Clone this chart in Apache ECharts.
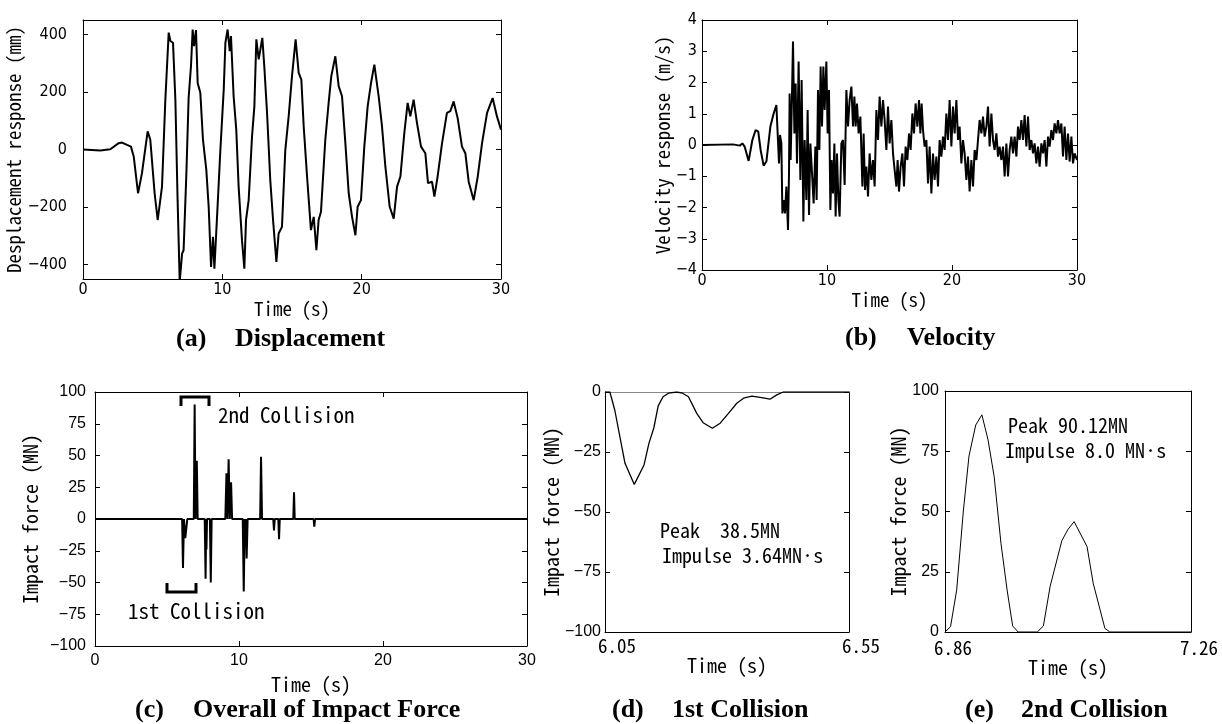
<!DOCTYPE html>
<html><head><meta charset="utf-8">
<script src="https://cdn.jsdelivr.net/npm/echarts@6/dist/echarts.min.js"></script>
<style>html,body{margin:0;padding:0;background:#fff}#c{width:1222px;height:724px}</style>
</head><body><div id="c"></div><script>
// ---------- DATA ----------
const dispTime = [0,1.24,1.96,2.56,2.8,3.16,3.44,3.64,3.95,4.23,4.64,4.83,5.14,5.36,5.67,5.91,6.15,6.27,6.46,6.63,6.79,6.94,7.11,7.22,7.42,7.58,7.75,7.87,7.97,8.11,8.23,8.42,8.61,8.85,9.02,9.19,9.33,9.43,9.62,9.86,10.1,10.22,10.38,10.53,10.62,10.81,11.0,11.17,11.41,11.58,11.7,11.89,12.13,12.3,12.44,12.61,12.87,13.01,13.21,13.44,13.64,13.88,14.04,14.28,14.52,14.76,15.0,15.26,15.48,15.67,15.84,16.08,16.36,16.56,16.75,16.91,17.08,17.39,17.63,17.82,18.11,18.35,18.59,18.83,19.07,19.31,19.55,19.71,19.95,20.19,20.43,20.67,20.91,21.22,21.46,21.7,22.01,22.3,22.54,22.78,23.06,23.3,23.49,23.73,23.97,24.26,24.57,24.76,25.05,25.22,25.45,25.77,26.12,26.36,26.6,26.89,27.2,27.44,27.68,28.04,28.33,28.64,29.0,29.4,29.71,30];
const dispValue = [0,-3.5,1,22,24,16,10,-24,-152,-83,63,34,-152,-245,-129,173,406,377,371,173,-176,-460,-362,-350,-83,179,290,417,359,415,231,197,34,-71,-199,-408,-303,-414,-234,-1,208,371,417,342,394,185,69,-129,-315,-414,-245,-176,45,150,383,313,388,290,127,-106,-245,-391,-292,-269,-1,115,255,383,266,243,80,-94,-280,-234,-350,-245,-216,34,162,255,324,220,185,22,-152,-234,-298,-199,-176,10,150,231,295,185,80,-59,-199,-240,-129,-94,57,162,115,173,92,10,-13,-117,-112,-164,-94,22,127,133,167,109,10,-13,-112,-176,-94,22,127,179,115,69];

const velTime = [0,2.48,3.01,3.23,3.41,3.73,4.03,4.29,4.5,4.69,4.93,5.15,5.47,5.73,5.95,6.11,6.16,6.24,6.35,6.43,6.56,6.64,6.75,6.88,6.96,7.01,7.09,7.17,7.28,7.39,7.49,7.6,7.73,7.87,7.97,8.11,8.21,8.35,8.45,8.56,8.67,8.83,8.93,9.07,9.17,9.28,9.39,9.49,9.6,9.71,9.81,9.95,10.05,10.16,10.27,10.37,10.48,10.59,10.69,10.8,10.91,11.01,11.15,11.28,11.41,11.55,11.68,11.81,11.95,12.08,12.19,12.29,12.4,12.53,12.67,12.83,12.93,13.04,13.15,13.28,13.41,13.55,13.68,13.81,13.95,14.08,14.21,14.35,14.48,14.61,14.75,14.88,15.01,15.15,15.28,15.41,15.55,15.65,15.76,15.89,16.03,16.16,16.29,16.43,16.56,16.69,16.83,16.96,17.09,17.23,17.36,17.47,17.57,17.68,17.81,17.95,18.08,18.21,18.35,18.48,18.61,18.75,18.88,19.01,19.15,19.28,19.41,19.55,19.68,19.81,19.95,20.08,20.21,20.35,20.48,20.61,20.75,20.88,21.01,21.15,21.28,21.41,21.55,21.68,21.81,21.95,22.08,22.21,22.35,22.48,22.61,22.75,22.88,23.01,23.15,23.28,23.41,23.55,23.68,23.81,23.95,24.08,24.21,24.35,24.48,24.61,24.75,24.88,25.01,25.15,25.28,25.41,25.55,25.68,25.81,25.95,26.08,26.21,26.35,26.48,26.61,26.75,26.88,27.01,27.15,27.28,27.41,27.55,27.68,27.81,27.95,28.08,28.21,28.35,28.48,28.61,28.75,28.88,29.01,29.15,29.28,29.41,29.55,29.68,29.81,30];
const velValue = [0,0.02,-0.02,0.05,-0.05,-0.51,0.16,0.48,0.43,-0.16,-0.66,-0.53,0.59,1.01,1.28,1.23,-0.59,0.32,0.05,-2.19,-1.76,-2.19,-1.33,-2.72,-0.91,1.65,-0.48,1.01,3.31,0.37,1.97,-0.59,2.67,-1.12,2.08,-2.45,0.16,-1.76,1.12,-2.24,0.05,-1.12,-1.87,-0.05,-1.76,1.76,-0.16,2.51,0.59,2.51,1.12,2.67,0.37,1.76,-2.08,-0.48,-1.55,0.05,-2.29,-0.27,-1.76,-2.29,0.05,0.16,-1.28,1.76,0.59,1.44,1.87,0.59,1.55,0.59,1.33,0.37,0.91,-1.33,0.37,-1.44,-0.69,-1.65,-0.27,-1.12,-0.48,-1.33,1.12,0.16,1.55,0.59,1.44,0.8,-0.16,1.23,0.05,0.8,-0.27,-0.8,-1.33,-0.48,-1.49,-0.69,-0.27,-1.33,-0.05,-0.48,0.37,-0.16,1.01,0.37,1.33,0.59,1.44,0.37,1.33,0.48,-0.05,0.16,-1.23,-0.05,-1.55,-0.27,-1.12,-0.37,-1.33,0.16,-0.37,0.27,-0.16,1.01,0.16,1.44,-0.05,1.23,0.37,1.44,0.16,0.59,-0.59,0.16,-0.27,-1.12,-0.37,-1.49,-0.48,-1.33,-0.16,-0.48,0.16,0.8,0.37,0.91,0.27,0.59,1.23,-0.05,1.01,0.16,-0.16,0.37,-0.37,-0.05,-0.48,-0.05,-1.01,0.05,-1.01,-0.16,0.27,-0.27,0.27,-0.37,0.59,0.16,0.8,0.16,0.96,-0.05,0.91,-0.16,0.16,-0.27,0.05,-0.59,-0.05,-0.69,0.05,-0.27,0.16,-0.69,0.27,-0.05,0.48,0.16,0.69,0.37,0.8,0.37,0.69,-0.37,0.59,-0.48,0.37,-0.53,0.27,-0.59,-0.27,-0.48];

const impactTime = [0,6.05,6.11,6.18,6.27,6.41,6.86,6.92,6.98,7.01,7.07,7.13,7.62,7.68,7.72,7.74,7.78,7.98,8.04,8.1,9.05,9.13,9.2,9.28,9.36,9.45,9.52,10.26,10.33,10.4,10.45,10.48,10.53,10.6,11.47,11.53,11.6,12.38,12.43,12.48,12.73,12.78,12.83,13.77,13.82,13.87,15.18,15.23,15.28,30];
const impactForce = [0,0,-38.5,0,-15,0,0,90.1,0,0,45.8,0,0,-47,0,-24,0,0,-50,0,0,36,0,47,0,29,0,0,-57,0,-16,0,-31,0,0,49,0,0,-9,0,0,-16,0,0,21,0,0,-6,0,0];

const col1Time = [6.05,6.06,6.07,6.091,6.11,6.13,6.14,6.15,6.159,6.169,6.18,6.197,6.209,6.221,6.238,6.251,6.27,6.286,6.303,6.32,6.334,6.351,6.371,6.388,6.402,6.415,6.55];
const col1Force = [0,0,-7.5,-29.7,-38.5,-30.4,-21.4,-15,-5.8,-2,-0.5,0,-0.5,-2,-8.9,-12.8,-15.1,-13,-8.9,-4.7,-2.6,-1.7,-2.3,-3,-1.2,0,0];

const col2Time = [6.86,6.869,6.879,6.89,6.899,6.91,6.92,6.93,6.94,6.951,6.961,6.97,6.979,7.01,7.02,7.031,7.05,7.06,7.07,7.091,7.101,7.12,7.128,7.26];
const col2Force = [0,2.2,17.4,50.6,73,85.9,90.1,79.7,64.4,36.8,17.4,2.5,0,0,2.5,19,37.9,42.6,45.8,35.4,20.2,1.5,0,0];

const dispTicks = [-400,-200,0,200,400];
const col1XLabels = [6.05,6.55];
const col2XLabels = [6.86,7.26];

// ---------- STYLE ----------
const MONO = "'Noto Sans Mono CJK JP','Noto Sans Mono CJK SC','DejaVu Sans Mono',monospace";
const NARROW = "'Liberation Sans Narrow','DejaVu Sans Condensed','Liberation Sans',sans-serif";
const SANS = "'Liberation Sans',Arial,sans-serif";
const SERIF = "'Liberation Serif','Times New Roman',serif";
const minus = v => String(v).replace('-', '\u2212');
const zip = (a, b) => a.map((t, i) => [t, b[i]]);

const chart = echarts.init(document.getElementById('c'), null, {renderer: 'canvas'});

const grids = [
  {left: 83, top: 20, width: 418, height: 259},
  {left: 702, top: 20, width: 375, height: 250},
  {left: 95, top: 392, width: 432, height: 254},
  {left: 605, top: 392, width: 244, height: 240},
  {left: 945, top: 391, width: 246, height: 241}
];

const lineC = {color: '#000', width: 1};
const xAxes = [], yAxes = [];
function addX(g, cfg, labelCfg, name, nameGap, nameSize, tickShow, topLine) {
  xAxes.push(Object.assign({
    type: 'value', gridIndex: g, position: 'bottom',
    axisLine: {show: true, onZero: false, lineStyle: lineC},
    axisTick: {show: tickShow, inside: true, length: 5, lineStyle: lineC},
    axisLabel: labelCfg, splitLine: {show: false},
    name: name, nameLocation: 'middle', nameGap: nameGap,
    nameTextStyle: {fontFamily: MONO, fontSize: nameSize, color: '#000'}
  }, cfg));
  xAxes.push(Object.assign({
    type: 'value', gridIndex: g, position: 'top',
    axisLine: {show: true, onZero: false, lineStyle: topLine || lineC},
    axisTick: {show: tickShow, inside: true, length: 5, lineStyle: lineC},
    axisLabel: {show: false}, splitLine: {show: false}
  }, cfg));
}
function addY(g, cfg, labelCfg, name, nameGap, nameSize, tickCfg) {
  yAxes.push(Object.assign({
    type: 'value', gridIndex: g, position: 'left',
    axisLine: {show: true, onZero: false, lineStyle: lineC},
    axisTick: Object.assign({show: true, inside: true, length: 5, lineStyle: lineC}, tickCfg || {}),
    axisLabel: labelCfg, splitLine: {show: false},
    name: name, nameLocation: 'middle', nameGap: nameGap,
    nameTextStyle: {fontFamily: MONO, fontSize: nameSize, color: '#000'}
  }, cfg));
  yAxes.push(Object.assign({
    type: 'value', gridIndex: g, position: 'right',
    axisLine: {show: true, onZero: false, lineStyle: lineC},
    axisTick: Object.assign({show: true, inside: true, length: 5, lineStyle: lineC}, tickCfg || {}),
    axisLabel: {show: false}, splitLine: {show: false}
  }, cfg));
}

const topLab = (margin) => ({fontFamily: NARROW, fontSize: 16, color: '#000', margin: margin, formatter: minus});
const botLab = (margin) => ({fontFamily: SANS, fontSize: 16, color: '#000', margin: margin, formatter: minus});

// (a)
addX(0, {min: 0, max: 30, interval: 10}, topLab(3), 'Time (s)', 20, 19, true);
addY(0, {min: -450, max: 450}, Object.assign(topLab(16), {customValues: dispTicks}), 'Desplacement response (mm)', 55, 19, {customValues: dispTicks});
// (b)
addX(1, {min: 0, max: 30, interval: 10}, topLab(3), 'Time (s)', 17, 19, true);
addY(1, {min: -4, max: 4, interval: 1}, topLab(5), 'Velocity response (m/s)', 30, 19);
// (c)
addX(2, {min: 0, max: 30, interval: 10}, botLab(7), 'Time (s)', 28, 20, true);
addY(2, {min: -100, max: 100, interval: 25}, botLab(9), 'Impact force (MN)', 55, 20);
// (d)
addX(3, {min: 6.05, max: 6.55}, {fontFamily: MONO, fontSize: 19, color: '#000', margin: 4, customValues: col1XLabels, formatter: v => v.toFixed(2), padding: [0, 0, 0, 24], showMinLabel: true, showMaxLabel: true}, 'Time (s)', 22, 20, false, {color: '#888', width: 1});
addY(3, {min: -100, max: 0, interval: 25}, botLab(4), 'Impact force (MN)', 38, 20);
// (e)
addX(4, {min: 6.86, max: 7.26}, {fontFamily: MONO, fontSize: 19, color: '#000', margin: 6, customValues: col2XLabels, formatter: v => v.toFixed(2), padding: [0, 0, 0, 16], showMinLabel: true, showMaxLabel: true}, 'Time (s)', 12, 20, false);
addY(4, {min: 0, max: 100, interval: 25}, botLab(6), 'Impact force (MN)', 34, 20);

const mkSeries = (i, data, w) => ({
  type: 'line', xAxisIndex: 2 * i, yAxisIndex: 2 * i, data: data, showSymbol: false, symbol: 'none',
  lineStyle: {color: '#000', width: w}, clip: true, animation: false, z: 3
});

const capText = (x, y, t) => ({type: 'text', left: x, top: y, style: {text: t, fontFamily: SERIF, fontWeight: 'bold', fontSize: 26, fill: '#000'}});
const annText = (x, y, t, s) => ({type: 'text', left: x, top: y, style: {text: t, fontFamily: MONO, fontSize: s, fill: '#000'}});

const graphics = [
  capText(176, 326, '(a)'), capText(235, 326, 'Displacement'),
  capText(845, 325, '(b)'), capText(907, 325, 'Velocity'),
  capText(135, 697, '(c)'), capText(193, 697, 'Overall of Impact Force'),
  capText(612, 697, '(d)'), capText(672, 697, '1st Collision'),
  capText(965, 697, '(e)'), capText(1021, 697, '2nd Collision'),
  annText(218, 405, '2nd Collision', 21),
  annText(128, 601, '1st Collision', 21),
  annText(660, 520, 'Peak  38.5MN', 20),
  annText(662, 545, 'Impulse 3.64MN\u00b7s', 20),
  annText(1008, 415, 'Peak 90.12MN', 20),
  annText(1005, 440, 'Impulse 8.0 MN\u00b7s', 20),
  {type: 'polyline', shape: {points: [[181, 406], [181, 397], [209, 397], [209, 406]]}, style: {stroke: '#000', lineWidth: 3, fill: null}},
  {type: 'polyline', shape: {points: [[167, 583], [167, 592], [196, 592], [196, 583]]}, style: {stroke: '#000', lineWidth: 3, fill: null}}
];

chart.setOption({
  animation: false,
  backgroundColor: '#fff',
  grid: grids,
  xAxis: xAxes,
  yAxis: yAxes,
  series: [
    mkSeries(0, zip(dispTime, dispValue), 2),
    mkSeries(1, zip(velTime, velValue), 2),
    mkSeries(2, zip(impactTime, impactForce), 2),
    mkSeries(3, zip(col1Time, col1Force), 1.3),
    mkSeries(4, zip(col2Time, col2Force), 1)
  ],
  graphic: graphics
});
</script></body></html>
